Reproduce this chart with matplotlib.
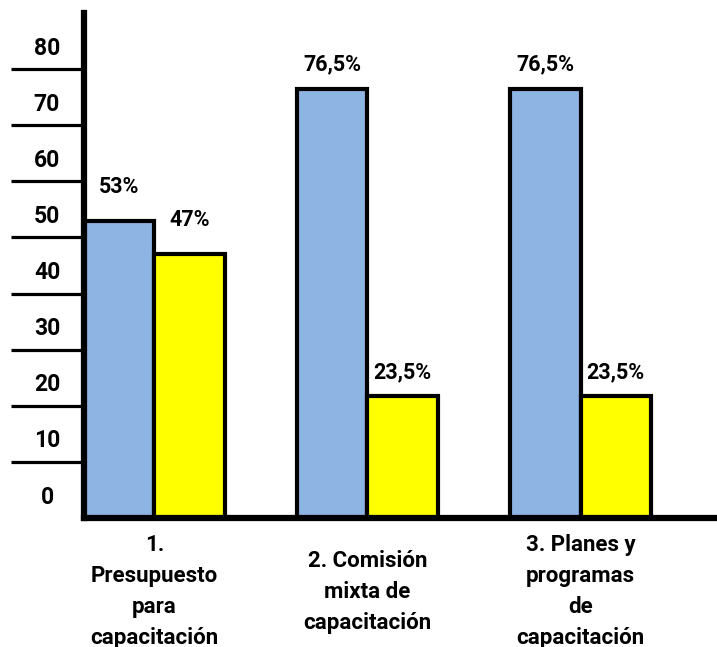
import matplotlib.pyplot as plt
from matplotlib import transforms

# --- datos ---
categorias = ["1.\nPresupuesto\npara\ncapacitación",
              "2. Comisión\nmixta de\ncapacitación",
              "3. Planes y\nprogramas\nde\ncapacitación"]
serie_azul = [53, 76.5, 76.5]
serie_amarilla = [47, 21.7, 21.7]
etiquetas_azul = ["53%", "76,5%", "76,5%"]
etiquetas_amarilla = ["47%", "23,5%", "23,5%"]
ticks_y = [0, 10, 20, 30, 40, 50, 60, 70, 80]

plt.rcParams['font.family'] = ['Roboto', 'DejaVu Sans']
plt.rcParams['font.weight'] = 'bold'

fig = plt.figure(figsize=(7.17, 6.47), dpi=100)
ax = fig.add_axes([84 / 717, 129 / 647, 633 / 717, 505 / 647])

ancho = 0.33
x = range(len(categorias))
xa = [i - ancho / 2 for i in x]
xb = [i + ancho / 2 for i in x]
barras_a = ax.bar(xa, serie_azul, ancho, color="#8EB4E3", edgecolor="black", linewidth=3)
barras_b = ax.bar(xb, serie_amarilla, ancho, color="#FFFF00", edgecolor="black", linewidth=3)

ax.set_xlim(-ancho, 2.64)
ax.set_ylim(0, 90)

# etiquetas de valor (el primer grupo queda un poco mas alto)
desp = [34, 24, 24]
for barras, textos in ((barras_a, etiquetas_azul), (barras_b, etiquetas_amarilla)):
    for i, (b, t) in enumerate(zip(barras, textos)):
        tr = transforms.offset_copy(ax.transData, fig=fig, x=0, y=desp[i] * 72 / 100, units='points')
        ax.text(b.get_x() + b.get_width() / 2, b.get_height(), t, transform=tr,
                ha='center', va='center', fontsize=15.5, fontweight='bold')

# eje y: lineas largas a la izquierda, etiquetas encima de cada linea
ax.set_yticks(ticks_y[1:])
ax.set_yticklabels([])
ax.tick_params(axis='y', length=73 * 72 / 100, width=2.3, color='black', direction='out')
base = transforms.blended_transform_factory(ax.transAxes, ax.transData)
tr_y = transforms.offset_copy(base, fig=fig, x=0, y=21 * 72 / 100, units='points')
for v in ticks_y:
    ax.text(-37 / 633, v, str(v), transform=tr_y, ha='center', va='center',
            fontsize=16.5, fontweight='bold')

# eje x
ax.set_xticks(list(x))
ax.set_xticklabels(categorias, fontsize=16, fontweight='bold', linespacing=1.53, va='center')
ax.tick_params(axis='x', length=0, pad=53)

for lado in ('top', 'right'):
    ax.spines[lado].set_visible(False)
ax.spines['left'].set_linewidth(4.5)
ax.spines['bottom'].set_linewidth(4.5)

fig.savefig("out.png", dpi=100)
